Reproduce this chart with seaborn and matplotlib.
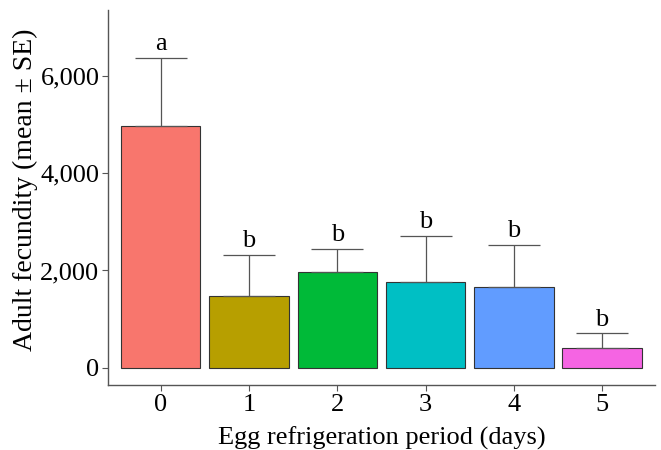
import matplotlib
matplotlib.use("Agg")
import matplotlib.pyplot as plt
import seaborn as sns
import numpy as np
from matplotlib.ticker import FuncFormatter

periods = ["0", "1", "2", "3", "4", "5"]
means = [4973, 1481, 1969, 1757, 1654, 399]
se = [1393, 832, 467, 959, 871, 309]
letters = ["a", "b", "b", "b", "b", "b"]
colors = ["#F8766D", "#B79F00", "#00BA38", "#00BFC4", "#619CFF", "#F564E3"]

sns.set_theme(style="white")
plt.rcParams["font.family"] = ["Liberation Serif", "DejaVu Serif"]

fig = plt.figure(figsize=(6.61, 4.5), dpi=100)
ax = fig.add_axes([0.163, 0.144, 0.828, 0.834])

sns.barplot(x=periods, y=means, hue=periods, palette=colors, legend=False,
            edgecolor="#333333", linewidth=0.8, width=0.9, saturation=1, ax=ax)

xpos = np.arange(len(periods))
ax.errorbar(xpos, means, yerr=[np.zeros(len(se)), se], fmt="none",
            ecolor="#555555", elinewidth=0.9, capsize=18.7, capthick=0.9, zorder=1)
for x, m, s, l in zip(xpos, means, se, letters):
    ax.annotate(l, (x, m + s), xytext=(0, 2), textcoords="offset points",
                ha="center", va="bottom", fontsize=19, color="black")

ax.set_xlim(-0.6, 5.6)
ax.set_ylim(-360, 7360)
ax.set_yticks([0, 2000, 4000, 6000])
ax.yaxis.set_major_formatter(FuncFormatter(lambda v, p: f"{int(v):,}"))
ax.set_xlabel("Egg refrigeration period (days)", fontsize=19, color="black", labelpad=8)
ax.set_ylabel("Adult fecundity (mean ± SE)", fontsize=20, color="black", labelpad=0)
ax.yaxis.set_label_coords(-0.127, 0.52)
ax.tick_params(axis="both", labelsize=19, colors="black", length=4, width=0.8,
               color="#555555", direction="out", left=True, bottom=True, pad=2)
for s in ["top", "right"]:
    ax.spines[s].set_visible(False)
for s in ["left", "bottom"]:
    ax.spines[s].set_color("#555555")
    ax.spines[s].set_linewidth(1.0)

fig.savefig("out.png", dpi=100)
